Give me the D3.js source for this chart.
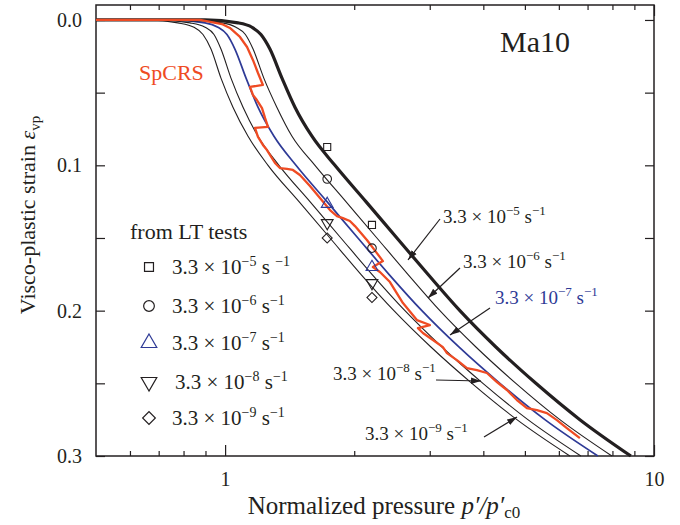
<!DOCTYPE html>
<html>
<head>
<meta charset="utf-8">
<script src="https://cdn.jsdelivr.net/npm/d3@7"></script>
<style>
  body { margin: 0; background: #fff; }
  svg text { font-family: "Liberation Serif", "Times New Roman", serif; fill: #231f20; }
</style>
</head>
<body>
<svg id="chart" width="680" height="525"></svg>
<script>
// --- data ---
// strain levels shared by the model curves
const strainLevels = [0, 0.002, 0.005, 0.01, 0.02, 0.04, 0.06, 0.08, 0.1, 0.125, 0.15, 0.175, 0.2, 0.225, 0.25, 0.275, 0.3];
// normalized pressure of each model curve at those levels
const pRate5 = [0.898, 1.072, 1.155, 1.212, 1.272, 1.357, 1.455, 1.594, 1.803, 2.130, 2.515, 2.971, 3.527, 4.279, 5.304, 6.717, 8.832];
const pRate6 = [0.806, 0.983, 1.060, 1.115, 1.162, 1.231, 1.320, 1.432, 1.620, 1.913, 2.259, 2.668, 3.168, 3.844, 4.764, 6.033, 7.976];
const pRate7 = [0.744, 0.898, 0.962, 1.010, 1.054, 1.119, 1.193, 1.300, 1.463, 1.728, 2.040, 2.410, 2.876, 3.508, 4.372, 5.567, 7.399];
const pRate8 = [0.697, 0.828, 0.898, 0.942, 0.978, 1.032, 1.101, 1.193, 1.335, 1.577, 1.862, 2.200, 2.626, 3.203, 3.991, 5.081, 6.753];
const pRate9 = [0.661, 0.776, 0.846, 0.888, 0.927, 0.978, 1.043, 1.131, 1.259, 1.487, 1.756, 2.073, 2.475, 3.019, 3.762, 4.790, 6.366];

// SpCRS test (stepped rate)
const spP = [0.5, 0.874, 0.983, 1.026, 1.083, 1.125, 1.161, 1.193, 1.225, 1.143, 1.161, 1.186, 1.219, 1.239, 1.259, 1.174, 1.193, 1.225, 1.252, 1.307, 1.342, 1.394, 1.439, 1.494, 1.577, 1.664, 1.756, 1.823, 1.882, 1.954, 2.008, 2.141, 2.259, 2.333, 2.211, 2.296, 2.423, 2.598, 2.800, 3.003, 2.816, 2.892, 3.052, 3.220, 3.290, 3.471, 3.663, 3.864, 4.077, 4.303, 4.540, 4.790, 5.054, 5.333, 5.627, 5.937, 6.264, 6.717];
const spE = [0, 0, 0.0028, 0.0055, 0.0117, 0.0186, 0.0275, 0.0365, 0.0447, 0.0461, 0.0516, 0.0551, 0.0606, 0.0674, 0.0736, 0.0743, 0.0805, 0.0860, 0.0895, 0.0984, 0.1019, 0.1025, 0.1032, 0.1067, 0.1142, 0.1225, 0.1308, 0.1349, 0.1363, 0.1383, 0.1418, 0.1514, 0.1604, 0.1659, 0.1700, 0.1734, 0.1803, 0.1948, 0.2065, 0.2099, 0.2120, 0.2154, 0.2202, 0.2251, 0.2292, 0.2340, 0.2395, 0.2409, 0.2429, 0.2491, 0.2546, 0.2615, 0.2670, 0.2684, 0.2705, 0.2753, 0.2808, 0.2877];

// LT test points
const ltP = [1.73, 2.2];
const ltE5 = [0.0874, 0.141];
const ltE6 = [0.1094, 0.157];
const ltE7 = [0.1266, 0.170];
const ltE8 = [0.1397, 0.181];
const ltE9 = [0.150, 0.191];

const rateExp = ["5", "6", "7", "8", "9"];
const xMajor = [1, 10];
const xMinor = [0.6, 0.7, 0.8, 0.9, 2, 3, 4, 5, 6, 7, 8, 9];
const yMajor = [0, 0.1, 0.2, 0.3];
const yMinor = [0.05, 0.15, 0.25];

const orange = "#ef4b23", blue = "#2e3a96", ink = "#231f20";

// --- scales ---
const svg = d3.select("#chart");
const x = d3.scaleLog().domain([0.5, 10]).range([96, 654]);
const y = d3.scaleLinear().domain([-0.0103, 0.3]).range([5, 456]);

// --- axes (ticks point inward) ---
function axisG(axis, tx, ty) {
    const g = svg.append("g").attr("transform", `translate(${tx},${ty})`).call(axis);
    g.select(".domain").remove();
    g.selectAll("line").attr("stroke", ink).attr("stroke-width", 1.2);
    g.selectAll("text").style("font-size", "20px").attr("fill", ink);
    return g;
}
axisG(d3.axisBottom(x).tickValues(xMajor).tickSize(-11).tickPadding(16).tickFormat(d3.format("d")), 0, 456);
axisG(d3.axisBottom(x).tickValues(xMinor).tickSize(-5).tickFormat(""), 0, 456);
axisG(d3.axisTop(x).tickValues(xMajor).tickSize(-11).tickFormat(""), 0, 5);
axisG(d3.axisTop(x).tickValues(xMinor).tickSize(-5).tickFormat(""), 0, 5);
axisG(d3.axisLeft(y).tickValues(yMajor).tickSize(-9).tickPadding(14).tickFormat(d3.format(".1f")), 96, 0);
axisG(d3.axisLeft(y).tickValues(yMinor).tickSize(-9).tickFormat(""), 96, 0);
axisG(d3.axisRight(y).tickValues(yMajor.concat(yMinor)).tickSize(-9).tickFormat(""), 654, 0);

svg.append("rect")
    .attr("x", 96).attr("y", 5).attr("width", 654 - 96).attr("height", 456 - 5)
    .attr("fill", "none").attr("stroke", ink).attr("stroke-width", 1.5);

// --- model curves ---
const line = d3.line().x(d => x(d[0])).y(d => y(d[1])).curve(d3.curveMonotoneX);
const curves = [
    { p: pRate9, color: ink, w: 1.1 },
    { p: pRate8, color: ink, w: 1.1 },
    { p: pRate6, color: ink, w: 1.1 },
    { p: pRate7, color: blue, w: 1.7 },
    { p: pRate5, color: ink, w: 3.2 }
];
curves.forEach(c => {
    const pts = [[0.5, 0]].concat(strainLevels.map((e, i) => [c.p[i], e]));
    svg.append("path").attr("d", line(pts))
        .attr("fill", "none").attr("stroke", c.color).attr("stroke-width", c.w);
});

// SpCRS
const spLine = d3.line().x(d => x(d[0])).y(d => y(d[1]));
svg.append("path").attr("d", spLine(spP.map((p, i) => [p, spE[i]])))
    .attr("fill", "none").attr("stroke", orange).attr("stroke-width", 2.3)
    .attr("stroke-linejoin", "round");

// --- LT test markers ---
const tests = [
    { e: ltE5, sym: d3.symbolSquare, rot: 0, color: ink, s: 50, ls: 80 },
    { e: ltE6, sym: d3.symbolCircle, rot: 0, color: ink, s: 58, ls: 90 },
    { e: ltE7, sym: d3.symbolTriangle, rot: 0, color: blue, s: 60, ls: 105 },
    { e: ltE8, sym: d3.symbolTriangle, rot: 180, color: ink, s: 60, ls: 105 },
    { e: ltE9, sym: d3.symbolSquare, rot: 45, color: ink, s: 50, ls: 80 }
];
tests.forEach(t => {
    ltP.forEach((p, i) => {
        svg.append("path")
            .attr("d", d3.symbol().type(t.sym).size(t.s)())
            .attr("transform", `translate(${x(p)},${y(t.e[i])}) rotate(${t.rot})`)
            .attr("fill", "none").attr("stroke", t.color).attr("stroke-width", 1.1);
    });
});

// --- text helpers ---
function rateText(px, py, exp, color, size, gap) {
    const t = svg.append("text").attr("x", px).attr("y", py)
        .style("font-size", size + "px").style("fill", color);
    const sup = Math.round(size * 0.68);
    t.append("tspan").text("3.3 × 10");
    t.append("tspan").attr("dy", -8).style("font-size", sup + "px").style("fill", color).text("−" + exp);
    t.append("tspan").attr("dy", 8).style("fill", color).text(gap ? " s " : " s");
    t.append("tspan").attr("dy", -8).style("font-size", sup + "px").style("fill", color).text("−1");
    return t;
}

// legend
svg.append("text").attr("x", 130).attr("y", 239).style("font-size", "22px").text("from LT tests");
const legendY = [267, 306, 343, 382, 418];
tests.forEach((t, i) => {
    svg.append("path")
        .attr("d", d3.symbol().type(t.sym).size(t.ls)())
        .attr("transform", `translate(149,${legendY[i]}) rotate(${t.rot})`)
        .attr("fill", "none").attr("stroke", t.color).attr("stroke-width", 1.2);
    rateText(i === 3 ? 175 : 172, legendY[i] + 7, rateExp[i], ink, 21, i === 0);
});

// annotations with arrows
svg.append("defs").append("marker")
    .attr("id", "arrow").attr("viewBox", "0 -4 10 8").attr("refX", 10).attr("refY", 0)
    .attr("markerWidth", 10).attr("markerHeight", 8).attr("markerUnits", "userSpaceOnUse")
    .attr("orient", "auto")
    .append("path").attr("d", "M0,-3.2L10,0L0,3.2Z").attr("fill", ink);

const notes = [
    { tx: 443, ty: 223, exp: "5", color: ink, from: [440, 219], to: [408, 260] },
    { tx: 463, ty: 268, exp: "6", color: ink, from: [460, 268], to: [428, 298] },
    { tx: 495, ty: 304, exp: "7", color: blue, from: [490, 308], to: [450, 335] },
    { tx: 333, ty: 380, exp: "8", color: ink, from: [436, 380], to: [481, 381] },
    { tx: 365, ty: 440, exp: "9", color: ink, from: [484, 437], to: [517, 417] }
];
notes.forEach(n => {
    rateText(n.tx, n.ty, n.exp, n.color, 19, false);
    svg.append("line")
        .attr("x1", n.from[0]).attr("y1", n.from[1]).attr("x2", n.to[0]).attr("y2", n.to[1])
        .attr("stroke", ink).attr("stroke-width", 1.2).attr("marker-end", "url(#arrow)");
});

svg.append("text").attr("x", 139).attr("y", 80).style("font-size", "22px").style("fill", orange).text("SpCRS");
svg.append("text").attr("x", 500).attr("y", 52).style("font-size", "30px").text("Ma10");

// axis titles
const xt = svg.append("text").attr("x", 384).attr("y", 514).attr("text-anchor", "middle").style("font-size", "25px");
xt.append("tspan").text("Normalized pressure ");
xt.append("tspan").style("font-style", "italic").text("p′/p′");
xt.append("tspan").attr("dy", 4).style("font-size", "17px").text("c0");

const yt = svg.append("text").attr("transform", "translate(35,215) rotate(-90)")
    .attr("text-anchor", "middle").style("font-size", "22px");
yt.append("tspan").text("Visco-plastic strain ");
yt.append("tspan").style("font-style", "italic").text("ε");
yt.append("tspan").attr("dy", 5).style("font-size", "15px").text("vp");
</script>
</body>
</html>
